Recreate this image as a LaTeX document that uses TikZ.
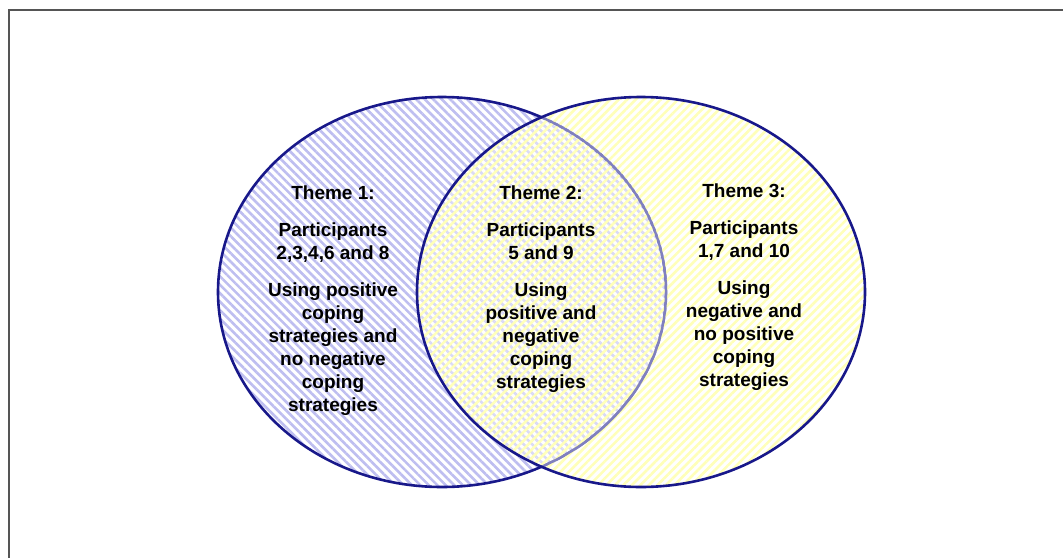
\documentclass[tikz,border=0pt]{standalone}
\usepackage{fontspec}
\setmainfont{Liberation Sans}
\usetikzlibrary{patterns.meta}
\definecolor{ringblue}{RGB}{24,24,138}
\definecolor{stripeblue}{RGB}{190,190,240}
\definecolor{stripeyellow}{RGB}{255,255,185}
\definecolor{framegray}{RGB}{85,85,85}
\tikzset{
  ring/.style={draw=ringblue, line width=2.6pt},
  themetext/.style={align=center, inner sep=0pt, anchor=north,
    font=\fontsize{19}{23}\selectfont\bfseries},
}
\begin{document}
\begin{tikzpicture}[x=1pt,y=-1pt]
\useasboundingbox (0,0) rectangle (1063,557);
% outer frame, running off the right and bottom edges
\draw[framegray, line width=2pt] (9,10) rectangle (1080,580);

% left set: blue hatching
\fill[pattern={Lines[angle=-45,distance=6pt,line width=2.6pt]}, pattern color=stripeblue]
  (442,292) ellipse [x radius=224, y radius=195];
\draw[ring] (442,292) ellipse [x radius=224, y radius=195];

% right set: translucent layer with yellow hatching laid over the left set
\fill[white, opacity=0.4] (641,292) ellipse [x radius=224, y radius=195];
\fill[pattern={Lines[angle=45,distance=6pt,line width=2.6pt]}, pattern color=stripeyellow]
  (641,292) ellipse [x radius=224, y radius=195];
% the left outline seen faintly through the right set
\begin{scope}
  \clip (641,292) ellipse [x radius=224, y radius=195];
  \draw[draw=ringblue!55!white, line width=2.4pt] (442,292) ellipse [x radius=224, y radius=195];
\end{scope}
\draw[ring] (641,292) ellipse [x radius=224, y radius=195];

\node[themetext] (t1) at (333,186) {Theme 1:\\[14pt]Participants\\2,3,4,6 and 8\\[14pt]Using positive\\coping\\strategies and\\no negative\\coping\\strategies};
\node[themetext] (t2) at (541,186) {Theme 2:\\[14pt]Participants\\5 and 9\\[14pt]Using\\positive and\\negative\\coping\\strategies};
\node[themetext] (t3) at (744,184) {Theme 3:\\[14pt]Participants\\1,7 and 10\\[14pt]Using\\negative and\\no positive\\coping\\strategies};
\end{tikzpicture}
\end{document}
